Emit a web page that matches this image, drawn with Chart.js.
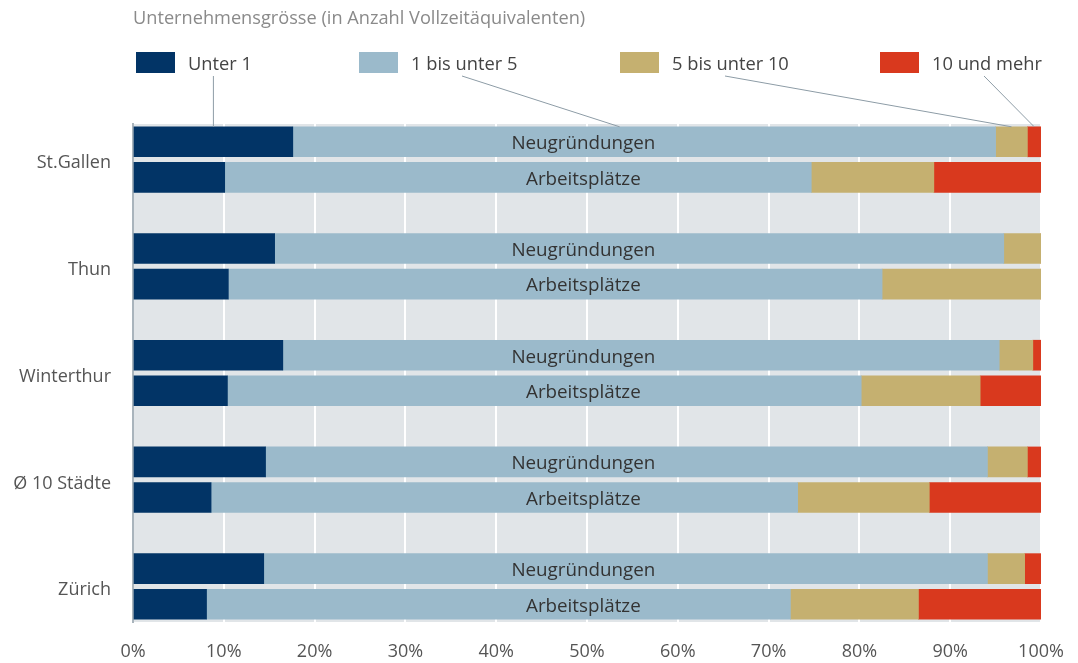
<!DOCTYPE html>
<html lang="de">
<head>
<meta charset="utf-8">
<title>Unternehmensgrösse</title>
<script src="https://cdn.jsdelivr.net/npm/chart.js@4"></script>
<style>
    body { margin: 0; background: #fff; font-family: "Open Sans", sans-serif; }
    #contenitore { position: relative; width: 1078px; height: 663px; }
    #grafico { position: absolute; left: 0; top: 0; }
    #titolo { position: absolute; left: 133px; top: 5px; font-size: 18.2px; color: #8a8a8a; white-space: nowrap; }
    .voce { position: absolute; top: 52px; height: 21px; display: flex; align-items: center; font-size: 18.3px; color: #444; white-space: nowrap; }
    .voce .box { width: 39px; height: 21px; margin-right: 13px; }
</style>
</head>
<body>
<div id="contenitore">
    <canvas id="grafico" width="1078" height="663"></canvas>
    <div id="titolo">Unternehmensgrösse (in Anzahl Vollzeitäquivalenten)</div>
    <div id="legenda"></div>
</div>
<script>
const citta = ['St.Gallen', 'Thun', 'Winterthur', 'Ø 10 Städte', 'Zürich'];
const tipiBarra = ['Neugründungen', 'Arbeitsplätze'];
const classi = ['Unter 1', '1 bis unter 5', '5 bis unter 10', '10 und mehr'];
const colori = ['#023466', '#9bbacb', '#c5b070', '#d9391e'];

// Neugründungen, quote in %
const neuUnter1 = [17.6, 15.6, 16.5, 14.6, 14.4];
const neu1bis5 = [77.4, 80.3, 78.9, 79.5, 79.7];
const neu5bis10 = [3.5, 4.1, 3.7, 4.4, 4.1];
const neu10mehr = [1.5, 0, 0.9, 1.5, 1.8];

// Arbeitsplätze, quote in %
const arbUnter1 = [10.1, 10.5, 10.4, 8.6, 8.1];
const arb1bis5 = [64.6, 72.0, 69.8, 64.6, 64.3];
const arb5bis10 = [13.5, 17.5, 13.1, 14.5, 14.1];
const arb10mehr = [11.8, 0, 6.7, 12.3, 13.5];

const serieNeu = [neuUnter1, neu1bis5, neu5bis10, neu10mehr];
const serieArb = [arbUnter1, arb1bis5, arb5bis10, arb10mehr];

// posizione della legenda (px) e punto di partenza delle linee guida
const legendaX = [136, 359, 620, 880];
const lineaDaX = [213, 462, 725, 984];
const lineaFrazione = [0.5, 0.465, 0.5, 0.5];

// righe del grafico: Neu, Arb, vuoto (tranne dopo l'ultima città)
let righe = [];
for (let i = 0; i < citta.length; i++) {
    righe.push({ etichetta: citta[i], tipo: 0, idx: i });
    righe.push({ etichetta: '', tipo: 1, idx: i });
    if (i < citta.length - 1) righe.push({ etichetta: '', tipo: null, idx: i });
}

const legenda = document.getElementById('legenda');
classi.forEach((c, k) => {
    const voce = document.createElement('div');
    voce.className = 'voce';
    voce.style.left = legendaX[k] + 'px';
    voce.innerHTML = `<span class="box" style="background:${colori[k]}"></span><span class="testo">${c}</span>`;
    legenda.appendChild(voce);
});

const sfondoPlugin = {
    id: 'sfondoPlugin',
    beforeDraw(chart) {
        const a = chart.chartArea;
        const ctx = chart.ctx;
        ctx.save();
        ctx.fillStyle = '#e1e5e8';
        ctx.fillRect(a.left, a.top, a.right - a.left, a.bottom - a.top);
        ctx.restore();
    }
};

const testoBarrePlugin = {
    id: 'testoBarrePlugin',
    afterDatasetsDraw(chart) {
        const ctx = chart.ctx;
        const x = chart.scales.x.getPixelForValue(49.6);
        ctx.save();
        ctx.fillStyle = '#333';
        ctx.font = '18.8px "Open Sans"';
        ctx.textAlign = 'center';
        ctx.textBaseline = 'middle';
        righe.forEach((r, i) => {
            if (r.tipo === null) return;
            ctx.fillText(tipiBarra[r.tipo], x, chart.scales.y.getPixelForValue(i) + 2);
        });
        ctx.restore();
    }
};

const lineeGuidaPlugin = {
    id: 'lineeGuidaPlugin',
    afterDraw(chart) {
        const ctx = chart.ctx;
        ctx.save();
        ctx.strokeStyle = '#8d9ca6';
        ctx.lineWidth = 1;
        for (let k = 0; k < classi.length; k++) {
            const bar = chart.getDatasetMeta(k).data[0];
            const xFine = bar.base + (bar.x - bar.base) * lineaFrazione[k];
            const yFine = bar.y - bar.height / 2;
            const xInizio = k === 0 ? xFine : lineaDaX[k];
            ctx.beginPath();
            ctx.moveTo(xInizio, 76);
            ctx.lineTo(xFine, yFine);
            ctx.stroke();
        }
        ctx.restore();
    }
};

Chart.defaults.font.family = '"Open Sans", sans-serif';

const grafico = new Chart(document.getElementById('grafico').getContext('2d'), {
    type: 'bar',
    data: {
        labels: righe.map(r => r.etichetta),
        datasets: classi.map((c, k) => ({
            label: c,
            data: righe.map(r => {
                if (r.tipo === null) return null;
                return r.tipo === 0 ? serieNeu[k][r.idx] : serieArb[k][r.idx];
            }),
            backgroundColor: colori[k],
            borderWidth: 0,
            barThickness: 30
        }))
    },
    options: {
        indexAxis: 'y',
        responsive: false,
        animation: false,
        layout: { padding: { top: 124, right: 37, left: 0, bottom: 0 } },
        plugins: {
            legend: { display: false },
            tooltip: { enabled: false }
        },
        scales: {
            x: {
                stacked: true,
                min: 0,
                max: 100,
                ticks: {
                    stepSize: 10,
                    padding: 19,
                    color: '#555',
                    font: { size: 18 },
                    callback: v => v + '%'
                },
                grid: { color: '#ffffff', lineWidth: 2, drawTicks: false },
                border: { display: false },
                afterFit: s => {
                    s.height = 41;
                    s.paddingLeft = 0;
                    s.paddingRight = 0;
                }
            },
            y: {
                stacked: true,
                grid: { display: false, drawTicks: false },
                border: { color: '#a9b4bc', width: 2 },
                ticks: {
                    autoSkip: false,
                    labelOffset: 21.5,
                    padding: 22,
                    color: '#555',
                    font: { size: 18 }
                },
                afterFit: s => { s.width = 133; }
            }
        }
    },
    plugins: [sfondoPlugin, testoBarrePlugin, lineeGuidaPlugin]
});
</script>
</body>
</html>
